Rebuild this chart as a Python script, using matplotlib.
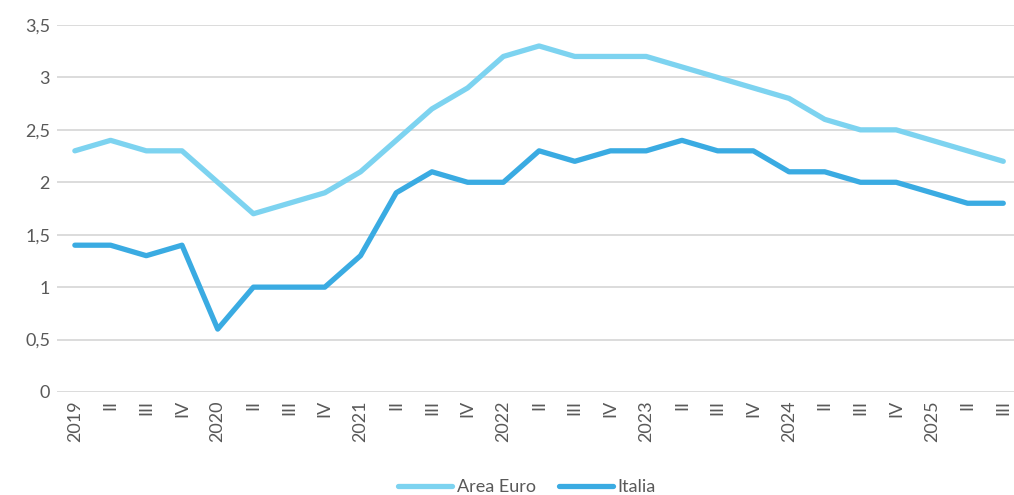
import matplotlib
matplotlib.use("Agg")
import matplotlib.pyplot as plt
import numpy as np

plt.rcParams["font.family"] = ["Lato", "DejaVu Sans"]

years = ["2019", "2020", "2021", "2022", "2023", "2024", "2025"]
quarters = ["", "II", "III", "IV"]
labels = []
for y in years:
    for q in quarters:
        labels.append(y if q == "" else q)
labels = labels[:27]

area_euro = [2.3, 2.4, 2.3, 2.3,
             2.0, 1.7, 1.8, 1.9,
             2.1, 2.4, 2.7, 2.9,
             3.2, 3.3, 3.2, 3.2,
             3.2, 3.1, 3.0, 2.9,
             2.8, 2.6, 2.5, 2.5,
             2.4, 2.3, 2.2]
italia = [1.4, 1.4, 1.3, 1.4,
          0.6, 1.0, 1.0, 1.0,
          1.3, 1.9, 2.1, 2.0,
          2.0, 2.3, 2.2, 2.3,
          2.3, 2.4, 2.3, 2.3,
          2.1, 2.1, 2.0, 2.0,
          1.9, 1.8, 1.8]

W, H = 1014, 495
fig = plt.figure(figsize=(W / 100, H / 100), dpi=100)
ax = fig.add_axes([57 / W, (H - 392) / H, (W - 57) / W, (392 - 25) / H])

x = np.arange(len(labels))
ax.plot(x, area_euro, color="#7DD3F0", lw=3.8, solid_capstyle="round",
        solid_joinstyle="round", label="Area Euro")
ax.plot(x, italia, color="#3AABE2", lw=3.8, solid_capstyle="round",
        solid_joinstyle="round", label="Italia")

ax.set_xlim(-0.5, 26.3)
ax.set_ylim(0, 3.5)
yt = np.arange(0, 3.51, 0.5)
ax.set_yticks(yt)
ax.set_yticklabels([("%g" % v).replace(".", ",") for v in yt])
ax.set_xticks(x)
ax.set_xticklabels(labels, rotation=90, va="top")
ax.tick_params(length=0, colors="#595959", labelsize=13)
ax.tick_params(axis="y", pad=5)
ax.tick_params(axis="x", pad=6)
ax.grid(axis="y", color="#D9D9D9", lw=1.3)
ax.set_axisbelow(True)
for s in ax.spines.values():
    s.set_visible(False)

leg = fig.legend(loc="center", bbox_to_anchor=(527 / W, 1 - 487 / H), ncol=2,
                 frameon=False, fontsize=13, handlelength=3.0,
                 handletextpad=0.25, columnspacing=1.3)
for t in leg.get_texts():
    t.set_color("#595959")

fig.savefig("out.png", dpi=100)
